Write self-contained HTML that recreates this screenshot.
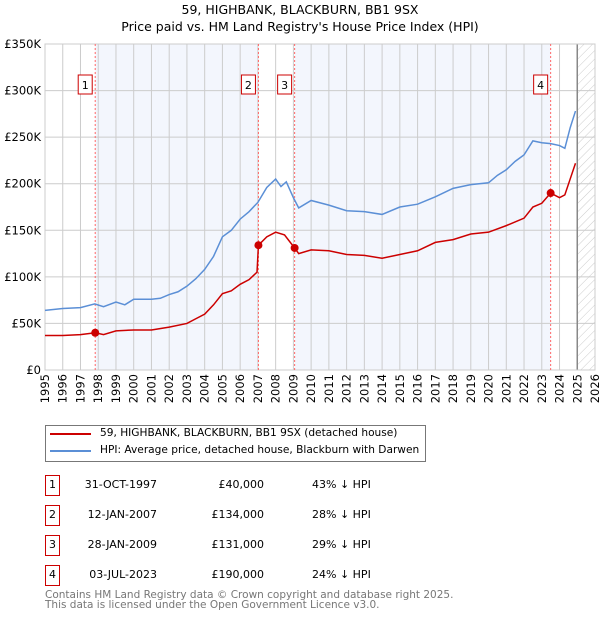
<!DOCTYPE html>
<html><head><meta charset="utf-8"><style>
body{margin:0;background:#fff;font-family:"DejaVu Sans","Liberation Sans",sans-serif;}
#wrap{position:relative;width:600px;height:620px;overflow:hidden;}
.t{position:absolute;font-size:11px;color:#000;white-space:nowrap;}
.lg{font-size:10.6px;}
.box{position:absolute;width:13px;height:19px;border:1px solid #c00;font-size:11px;text-align:center;line-height:18px;}
</style></head><body><div id="wrap">
<svg id="svg" width="600" height="420" style="position:absolute;left:0;top:0">
<defs><pattern id="hatch" width="6" height="6" patternUnits="userSpaceOnUse" patternTransform="rotate(45)"><line x1="0" y1="0" x2="0" y2="6" stroke="#ccc" stroke-width="1"/></pattern></defs>
<text x="300" y="14" text-anchor="middle" font-size="12.5" font-family="DejaVu Sans,sans-serif">59, HIGHBANK, BLACKBURN, BB1 9SX</text>
<text x="300" y="31" text-anchor="middle" font-size="12.5" font-family="DejaVu Sans,sans-serif">Price paid vs. HM Land Registry's House Price Index (HPI)</text>
<g id="g" font-family="DejaVu Sans,sans-serif"></g>
</svg>
<div class="t" style="left:45px;top:425px;width:379px;height:35px;border:1px solid #777;"></div>
<div style="position:absolute;left:50px;top:433px;width:41px;height:2px;background:#c00"></div>
<div class="t lg" style="left:100px;top:427px">59, HIGHBANK, BLACKBURN, BB1 9SX (detached house)</div>
<div style="position:absolute;left:50px;top:450px;width:41px;height:2px;background:#5b8fd6"></div>
<div class="t lg" style="left:100px;top:444px">HPI: Average price, detached house, Blackburn with Darwen</div>
<div id="tbl"></div>
<div class="t" style="left:45px;top:590px;color:#777;font-size:10.5px;line-height:10px">Contains HM Land Registry data © Crown copyright and database right 2025.<br>This data is licensed under the Open Government Licence v3.0.</div>
</div>
<script>
const hpiYears=[1995,1996,1997,1997.8,1998.3,1999,1999.5,2000,2001,2001.5,2002,2002.5,2003,2003.5,2004,2004.5,2005,2005.5,2006,2006.5,2007,2007.5,2008,2008.3,2008.6,2009,2009.3,2010,2011,2012,2013,2014,2015,2016,2017,2018,2019,2020,2020.5,2021,2021.5,2022,2022.5,2023,2023.5,2024,2024.3,2024.6,2024.9];
const hpiValues=[64,66,67,71,68,73,70,76,76,77,81,84,90,98,108,122,143,150,162,170,180,196,205,197,202,185,174,182,177,171,170,167,175,178,186,195,199,201,209,215,224,231,246,244,243,241,238,260,278];
const priceYears=[1995,1996,1997,1997.83,1998.3,1999,2000,2001,2002,2003,2003.5,2004,2004.5,2005,2005.5,2006,2006.5,2006.95,2007.03,2007.5,2008,2008.5,2009.07,2009.3,2010,2011,2012,2013,2014,2015,2016,2017,2018,2019,2020,2021,2022,2022.5,2023,2023.5,2024,2024.3,2024.6,2024.9];
const priceValues=[37,37,38,40,38,42,43,43,46,50,55,60,70,82,85,92,97,105,134,143,148,145,131,125,129,128,124,123,120,124,128,137,140,146,148,155,163,175,179,190,185,188,205,222];
const sales=[{n:"1",y:1997.83,v:40,d:"31-OCT-1997",p:"£40,000",h:"43% ↓ HPI"},{n:"2",y:2007.03,v:134,d:"12-JAN-2007",p:"£134,000",h:"28% ↓ HPI"},{n:"3",y:2009.07,v:131,d:"28-JAN-2009",p:"£131,000",h:"29% ↓ HPI"},{n:"4",y:2023.5,v:190,d:"03-JUL-2023",p:"£190,000",h:"24% ↓ HPI"}];
const yTicks=[0,50,100,150,200,250,300,350];
const xTicks=[1995,1996,1997,1998,1999,2000,2001,2002,2003,2004,2005,2006,2007,2008,2009,2010,2011,2012,2013,2014,2015,2016,2017,2018,2019,2020,2021,2022,2023,2024,2025,2026];
const X0=45,X1=595,Y0=370,Y1=44;
const xs=y=>X0+(y-1995)/(2026-1995)*(X1-X0);
const ys=v=>Y0-v/350*(Y0-Y1);
const g=document.getElementById('g');const NS="http://www.w3.org/2000/svg";
function mk(t,a){const e=document.createElementNS(NS,t);for(const k in a)e.setAttribute(k,a[k]);g.appendChild(e);return e;}
let e;
e=mk('rect',{x:xs(sales[0].y),y:Y1,width:xs(sales[1].y)-xs(sales[0].y),height:Y0-Y1,fill:'#f3f6fd'});


e=mk('rect',{x:xs(sales[2].y),y:Y1,width:xs(sales[3].y)-xs(sales[2].y),height:Y0-Y1,fill:'#f3f6fd'});


e=mk('rect',{x:xs(2025),y:Y1,width:X1-xs(2025),height:Y0-Y1,fill:'url(#hatch)'});


xTicks.forEach(t=>{e=mk('line',{x1:xs(t),x2:xs(t),y1:Y1,y2:Y0,stroke:'#ccc'});


const tx=xs(t)+4,ty=Y0+4;
e=mk('text',{x:tx,y:ty,'text-anchor':'end','font-size':'11.5',transform:`rotate(-90 ${tx} ${ty})`});e.textContent=t;

});
yTicks.forEach(t=>{e=mk('line',{x1:X0,x2:X1,y1:ys(t),y2:ys(t),stroke:'#ccc'});


e=mk('text',{x:X0-4,y:ys(t)+4,'text-anchor':'end','font-size':'11.5'});e.textContent=t===0?'£0':'£'+t+'K';

});
e=mk('line',{x1:xs(2025),x2:xs(2025),y1:Y1,y2:Y0,stroke:'#888','stroke-width':1.5});


e=mk('rect',{x:X0,y:Y1,width:X1-X0,height:Y0-Y1,fill:'none',stroke:'#ccc'});


sales.forEach(s=>{e=mk('line',{x1:xs(s.y),x2:xs(s.y),y1:Y1,y2:Y0,stroke:'#f66','stroke-dasharray':'2,2'});


e=mk('rect',{x:xs(s.y)-17,y:75,width:14,height:19,fill:'#fff',stroke:'#c00'});


e=mk('text',{x:xs(s.y)-10,y:89,'text-anchor':'middle','font-size':'11'});e.textContent=s.n;

});
e=mk('polyline',{points:hpiYears.map((y,i)=>xs(y)+','+ys(hpiValues[i])).join(' '),fill:'none',stroke:'#5b8fd6','stroke-width':1.5});


e=mk('polyline',{points:priceYears.map((y,i)=>xs(y)+','+ys(priceValues[i])).join(' '),fill:'none',stroke:'#c00','stroke-width':1.5});


sales.forEach(s=>{e=mk('circle',{cx:xs(s.y),cy:ys(s.v),r:4,fill:'#c00'});

});
const tbl=document.getElementById('tbl');
sales.forEach((s,i)=>{const top=475+i*30;
const row=document.createElement('div');


row.innerHTML=`<div class="box" style="left:45px;top:${top}px">${s.n}</div><div class="t" style="left:60px;width:97px;text-align:right;top:${top+3}px">${s.d}</div><div class="t" style="left:180px;width:84px;text-align:right;top:${top+3}px">${s.p}</div><div class="t" style="left:312px;top:${top+3}px">${s.h}</div>`;
tbl.appendChild(row);});
</script></body></html>
